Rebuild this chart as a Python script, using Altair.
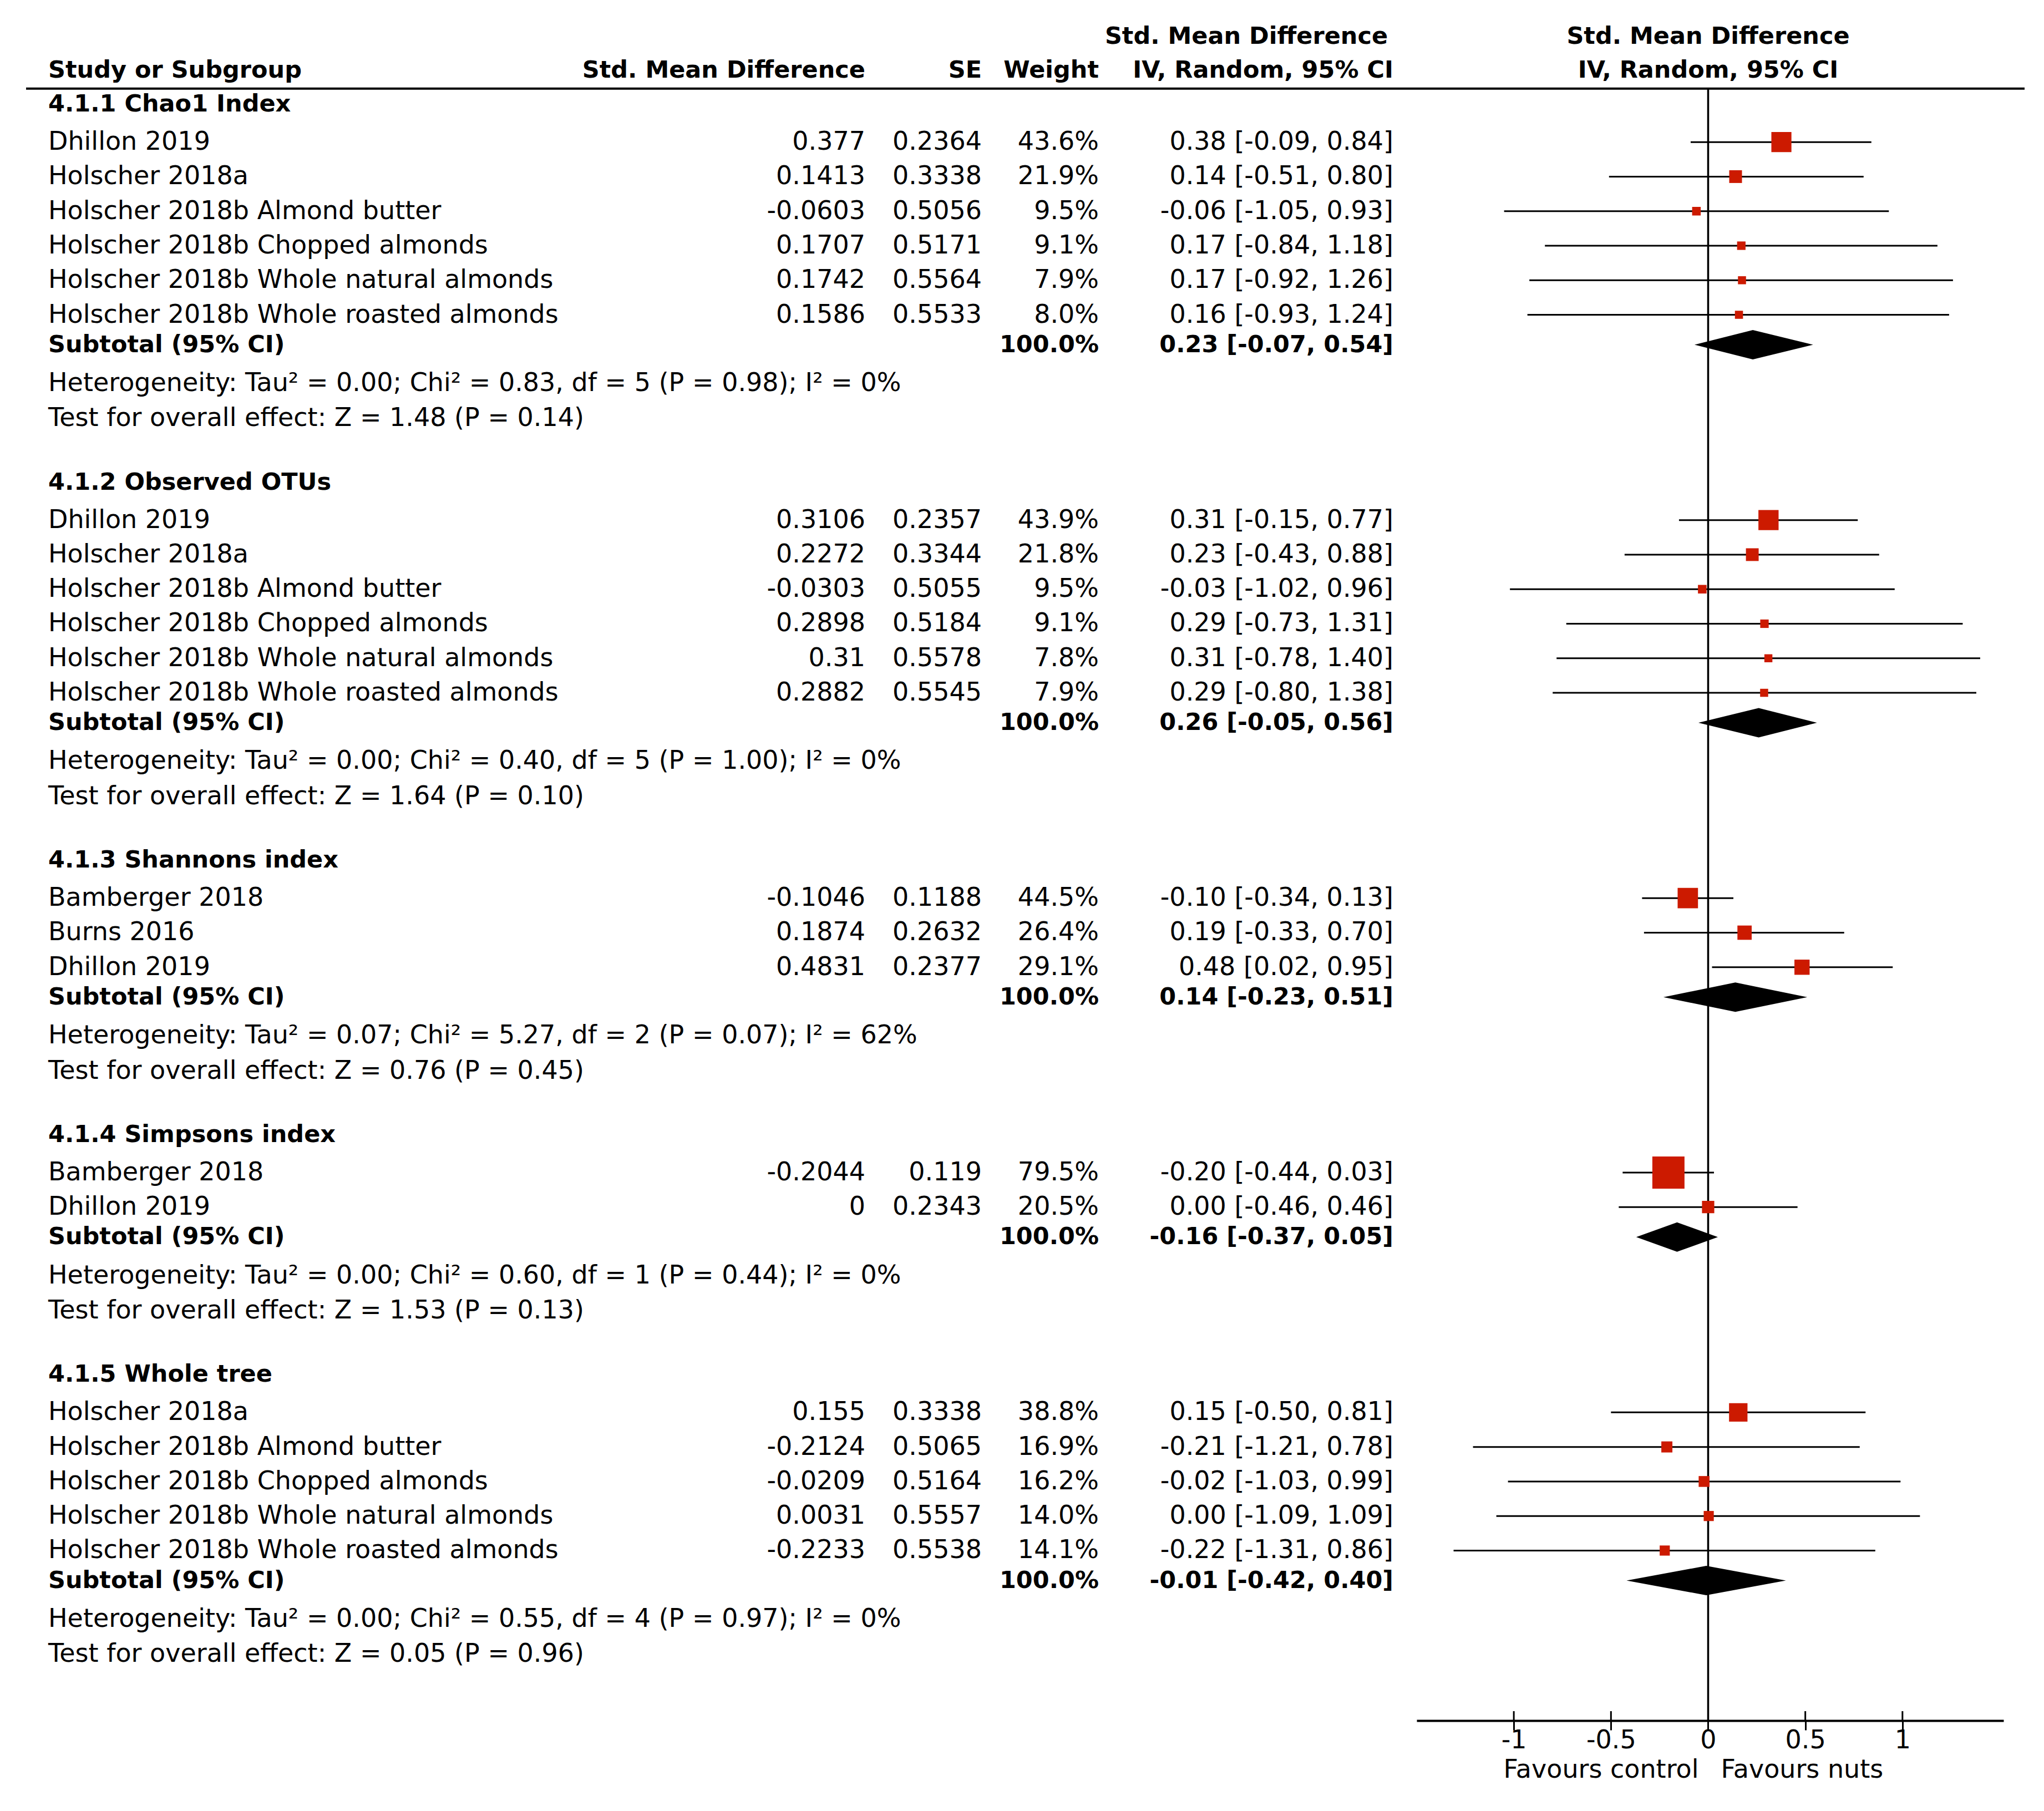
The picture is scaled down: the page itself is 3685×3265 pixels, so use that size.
import altair as alt
import pandas as pd

# ---------------- data ----------------
groups = ["4.1.1 Chao1 Index", "4.1.2 Observed OTUs", "4.1.3 Shannons index",
          "4.1.4 Simpsons index", "4.1.5 Whole tree"]

study_names = [
    ["Dhillon 2019", "Holscher 2018a", "Holscher 2018b Almond butter",
     "Holscher 2018b Chopped almonds", "Holscher 2018b Whole natural almonds",
     "Holscher 2018b Whole roasted almonds"],
    ["Dhillon 2019", "Holscher 2018a", "Holscher 2018b Almond butter",
     "Holscher 2018b Chopped almonds", "Holscher 2018b Whole natural almonds",
     "Holscher 2018b Whole roasted almonds"],
    ["Bamberger 2018", "Burns 2016", "Dhillon 2019"],
    ["Bamberger 2018", "Dhillon 2019"],
    ["Holscher 2018a", "Holscher 2018b Almond butter", "Holscher 2018b Chopped almonds",
     "Holscher 2018b Whole natural almonds", "Holscher 2018b Whole roasted almonds"],
]
smd = [
    [0.377, 0.1413, -0.0603, 0.1707, 0.1742, 0.1586],
    [0.3106, 0.2272, -0.0303, 0.2898, 0.31, 0.2882],
    [-0.1046, 0.1874, 0.4831],
    [-0.2044, 0.0],
    [0.155, -0.2124, -0.0209, 0.0031, -0.2233],
]
se = [
    [0.2364, 0.3338, 0.5056, 0.5171, 0.5564, 0.5533],
    [0.2357, 0.3344, 0.5055, 0.5184, 0.5578, 0.5545],
    [0.1188, 0.2632, 0.2377],
    [0.119, 0.2343],
    [0.3338, 0.5065, 0.5164, 0.5557, 0.5538],
]
weight = [
    [43.6, 21.9, 9.5, 9.1, 7.9, 8.0],
    [43.9, 21.8, 9.5, 9.1, 7.8, 7.9],
    [44.5, 26.4, 29.1],
    [79.5, 20.5],
    [38.8, 16.9, 16.2, 14.0, 14.1],
]
ci_lo = [
    [-0.09, -0.51, -1.05, -0.84, -0.92, -0.93],
    [-0.15, -0.43, -1.02, -0.73, -0.78, -0.80],
    [-0.34, -0.33, 0.02],
    [-0.44, -0.46],
    [-0.50, -1.21, -1.03, -1.09, -1.31],
]
ci_hi = [
    [0.84, 0.80, 0.93, 1.18, 1.26, 1.24],
    [0.77, 0.88, 0.96, 1.31, 1.40, 1.38],
    [0.13, 0.70, 0.95],
    [0.03, 0.46],
    [0.81, 0.78, 0.99, 1.09, 0.86],
]
sub_est = [0.23, 0.26, 0.14, -0.16, -0.01]
sub_lo = [-0.07, -0.05, -0.23, -0.37, -0.42]
sub_hi = [0.54, 0.56, 0.51, 0.05, 0.40]
het_text = [
    "Heterogeneity: Tau² = 0.00; Chi² = 0.83, df = 5 (P = 0.98); I² = 0%",
    "Heterogeneity: Tau² = 0.00; Chi² = 0.40, df = 5 (P = 1.00); I² = 0%",
    "Heterogeneity: Tau² = 0.07; Chi² = 5.27, df = 2 (P = 0.07); I² = 62%",
    "Heterogeneity: Tau² = 0.00; Chi² = 0.60, df = 1 (P = 0.44); I² = 0%",
    "Heterogeneity: Tau² = 0.00; Chi² = 0.55, df = 4 (P = 0.97); I² = 0%",
]
test_text = [
    "Test for overall effect: Z = 1.48 (P = 0.14)",
    "Test for overall effect: Z = 1.64 (P = 0.10)",
    "Test for overall effect: Z = 0.76 (P = 0.45)",
    "Test for overall effect: Z = 1.53 (P = 0.13)",
    "Test for overall effect: Z = 0.05 (P = 0.96)",
]
tick_values = [-1, -0.5, 0, 0.5, 1]
favours_left = "Favours control"
favours_right = "Favours nuts"

# ---------------- layout (line units) ----------------
K = 2.35
U = 26.5 * K            # pixels per text line
H = 3094                # plot height (axis position)
W = 3660
TITLE_TO_STUDY = 1.094
STUDY_STEP = 1.0
STUDY_TO_SUB = 0.868
SUB_TO_HET = 1.113
HET_TO_TEST = 1.019
TEST_TO_TITLE = 1.85
HEADER1 = -1.96
HEADER2 = -0.98
HLINE = -0.453
Y_MIN = (8 - 80 * K) / U
Y_MAX = (H + 8 - 80 * K) / U

labels_n, labels_b, studies, subs = [], [], [], []
pos = 0.0
for g in range(len(groups)):
    labels_b.append({"pos": pos, "text": groups[g]})
    pos += TITLE_TO_STUDY
    for i in range(len(study_names[g])):
        e, l, h, w = smd[g][i], ci_lo[g][i], ci_hi[g][i], weight[g][i]
        labels_n.append({"pos": pos, "text": study_names[g][i]})
        side = 9.7 + 0.607 * w
        studies.append({
            "pos": pos, "smd": e, "lo": l, "hi": h, "area": side * side,
            "smd_t": f"{e:g}", "se_t": f"{se[g][i]:g}", "w_t": f"{w:.1f}%",
            "ci_t": f"{e:.2f} [{l:.2f}, {h:.2f}]",
        })
        if i < len(study_names[g]) - 1:
            pos += STUDY_STEP
    pos += STUDY_TO_SUB
    labels_b.append({"pos": pos, "text": "Subtotal (95% CI)"})
    subs.append({"pos": pos, "g": g, "w_t": "100.0%",
                 "ci_t": f"{sub_est[g]:.2f} [{sub_lo[g]:.2f}, {sub_hi[g]:.2f}]"})
    pos += SUB_TO_HET
    labels_n.append({"pos": pos, "text": het_text[g]})
    pos += HET_TO_TEST
    labels_n.append({"pos": pos, "text": test_text[g]})
    pos += TEST_TO_TITLE

DH = 26.5 / U
diamonds = []
for s in subs:
    g = s["g"]
    c = s["pos"]
    diamonds += [
        {"g": g, "x": sub_lo[g], "y": c, "y2": c},
        {"g": g, "x": sub_est[g], "y": c - DH, "y2": c + DH},
        {"g": g, "x": sub_hi[g], "y": c, "y2": c},
    ]

df_ln = pd.DataFrame(labels_n)
df_lb = pd.DataFrame(labels_b)
df_st = pd.DataFrame(studies)
df_sub = pd.DataFrame(subs)
df_dia = pd.DataFrame(diamonds)
df_ticks = pd.DataFrame({"v": [v for v in tick_values if v != 0]})

FONT = "DejaVu Sans"
FS = 46
FSB = 43
RED = "#CC1A00"

xs = alt.Scale(domain=[-1.5, 1.52], range=[2546, 3604], nice=False, zero=False)
xa = alt.Axis(values=tick_values, labelExpr="toString(datum.value)", title=None,
              grid=False, domainColor="black", domainWidth=4, tickColor="black",
              tickWidth=3, tickSize=17, labelFontSize=FS, labelFont=FONT,
              labelColor="black", labelBaseline="middle", labelPadding=18,
              labelFlush=False, labelOverlap=False)
ys = alt.Scale(domain=[Y_MIN, Y_MAX], reverse=True, nice=False, zero=False)


def Y(field):
    return alt.Y(field, type="quantitative", scale=ys, axis=None)


def YD(v):
    return alt.Y(datum=v, type="quantitative", scale=ys, axis=None)


def X(field):
    return alt.X(field, type="quantitative", scale=xs, axis=xa)


def XD(v):
    return alt.X(datum=v, type="quantitative", scale=xs, axis=xa)


def txt(df, field, x, align="right", bold=False):
    return alt.Chart(df).mark_text(
        align=align, baseline="middle", font=FONT,
        fontSize=FSB if bold else FS, fontWeight="bold" if bold else "normal",
        color="black"
    ).encode(x=alt.value(x), y=Y("pos"), text=alt.Text(f"{field}:N"))


def header(text, pos, x=None, align="left", xdatum=None):
    enc = {"y": YD(pos), "text": alt.value(text)}
    enc["x"] = XD(xdatum) if xdatum is not None else alt.value(x)
    return alt.Chart(pd.DataFrame({"a": [0]})).mark_text(
        align=align, baseline="middle", font=FONT, fontSize=FSB,
        fontWeight="bold", color="black").encode(**enc)


LX = 79
layers = [
    # header rule and zero line
    alt.Chart(pd.DataFrame({"a": [0]})).mark_rule(color="black", strokeWidth=4).encode(
        x=alt.value(39), x2=alt.value(3642), y=YD(HLINE)),
    alt.Chart(pd.DataFrame({"a": [0]})).mark_rule(color="black", strokeWidth=3.5).encode(
        x=XD(0), y=YD(HLINE), y2=alt.value(H)),
    alt.Chart(df_ticks).mark_rule(color="black", strokeWidth=3).encode(
        x=X("v"), y=alt.value(H - 17), y2=alt.value(H)),
    # CI lines and squares
    alt.Chart(df_st).mark_rule(color="black", strokeWidth=3).encode(
        x=X("lo"), x2=alt.X2("hi"), y=Y("pos")),
    alt.Chart(df_st).mark_square(filled=True, color=RED, opacity=1).encode(
        x=X("smd"), y=Y("pos"), size=alt.Size("area:Q", scale=None, legend=None)),
    # diamonds
    alt.Chart(df_dia).mark_area(color="black", opacity=1).encode(
        x=X("x"), y=Y("y"), y2=alt.Y2("y2"), detail="g:N"),
    # text columns
    txt(df_ln, "text", LX, align="left"),
    txt(df_lb, "text", LX, align="left", bold=True),
    txt(df_st, "smd_t", 1552),
    txt(df_st, "se_t", 1762),
    txt(df_st, "w_t", 1973),
    txt(df_st, "ci_t", 2504),
    txt(df_sub, "w_t", 1973, bold=True),
    txt(df_sub, "ci_t", 2504, bold=True),
    # headers
    header("Study or Subgroup", HEADER2, x=LX, align="left"),
    header("Std. Mean Difference", HEADER2, x=1552, align="right"),
    header("SE", HEADER2, x=1762, align="right"),
    header("Weight", HEADER2, x=1973, align="right"),
    header("Std. Mean Difference", HEADER1, x=2239, align="center"),
    header("IV, Random, 95% CI", HEADER2, x=2504, align="right"),
    header("Std. Mean Difference", HEADER1, xdatum=0, align="center"),
    header("IV, Random, 95% CI", HEADER2, xdatum=0, align="center"),
    # favours labels
    alt.Chart(pd.DataFrame({"a": [0]})).mark_text(
        align="right", baseline="middle", font=FONT, fontSize=FS, color="black",
        dx=-17).encode(x=XD(0), y=alt.value(H + 89), text=alt.value(favours_left)),
    alt.Chart(pd.DataFrame({"a": [0]})).mark_text(
        align="left", baseline="middle", font=FONT, fontSize=FS, color="black",
        dx=23).encode(x=XD(0), y=alt.value(H + 89), text=alt.value(favours_right)),
]

chart = alt.layer(*layers).properties(
    width=W, height=H,
    background="white",
    autosize=alt.AutoSizeParams(type="none"),
    padding={"left": 0, "top": 0, "right": 0, "bottom": 150},
).configure_view(stroke=None, strokeWidth=0)

chart.save("out.html", embed_options={"renderer": "svg", "actions": False})
